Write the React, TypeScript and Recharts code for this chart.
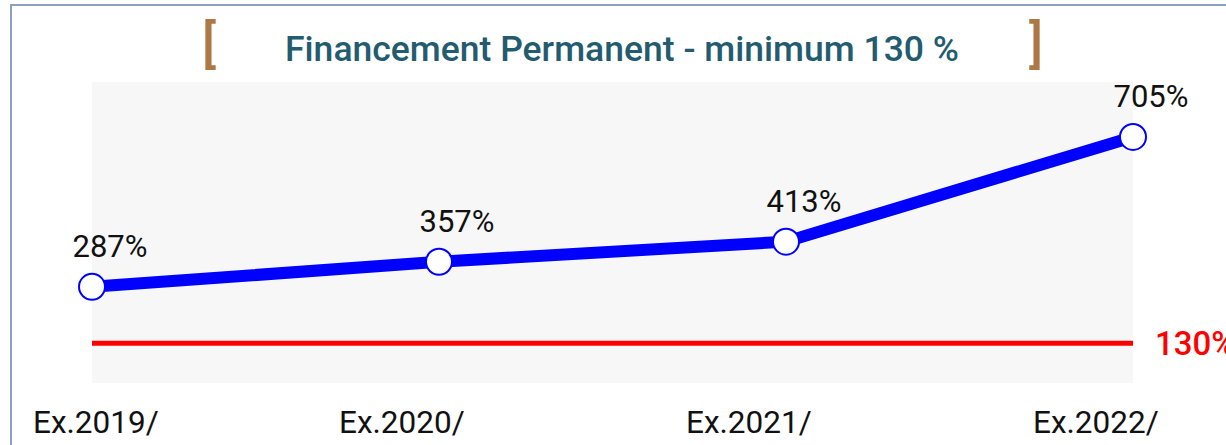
import { LineChart, Line, XAxis, YAxis, CartesianGrid, ReferenceLine, LabelList } from 'recharts';

const exercises = ['Ex.2019/', 'Ex.2020/', 'Ex.2021/', 'Ex.2022/'];
const ratios = [287, 357, 413, 705];
const minimum = 130;
const title = 'Financement Permanent - minimum 130 %';

const data = exercises.map((name, i) => ({ name, ratio: ratios[i] }));

const FONT = 'Roboto, "Noto Sans", sans-serif';

function ExTick(props: any) {
  const { x, y, payload } = props;
  // labels sit left of their point, but never past the frame
  const left = Math.max(33, x - 100);
  return (
    <text x={left} y={y + 42} textAnchor="start" fontFamily={FONT} fontSize={31.5} fill="#111">
      {payload.value}
    </text>
  );
}

function ValueLabel(props: any) {
  const { x, y, value } = props;
  return (
    <text x={x + 18} y={y - 30} textAnchor="middle" fontFamily={FONT} fontSize={31} fill="#111">
      {value}%
    </text>
  );
}

export default function App() {
  return (
    <div style={{ position: 'absolute', left: 0, top: 0, width: 1226, height: 445, overflow: 'hidden', background: '#fff' }}>
      <div
        style={{
          position: 'absolute',
          left: 10,
          top: 4,
          width: 1260,
          height: 480,
          border: '2px solid #8ba1c2',
        }}
      />
      <svg width={1226} height={80} style={{ position: 'absolute', left: 0, top: 0 }}>
        <text x={209} y={62} textAnchor="middle" fontFamily={FONT} fontSize={52} fontWeight={500} fill="#ad7843">[</text>
        <text x={622} y={61} textAnchor="middle" fontFamily={FONT} fontSize={35.5} fontWeight={500} fill="#235b6f">
          {title}
        </text>
        <text x={1036} y={62} textAnchor="middle" fontFamily={FONT} fontSize={52} fontWeight={500} fill="#ad7843">]</text>
      </svg>
      <div style={{ position: 'absolute', left: 0, top: 0 }}>
        <LineChart width={1226} height={445} data={data} margin={{ top: 82, right: 93, bottom: 0, left: 92 }}>
          <CartesianGrid fill="#f7f7f7" stroke="none" horizontal={false} vertical={false} />
          <XAxis
            dataKey="name"
            height={62}
            axisLine={false}
            tickLine={false}
            padding={{ left: 0, right: 0 }}
            tick={<ExTick />}
            interval={0}
          />
          <YAxis hide domain={[19, 858]} />
          <ReferenceLine
            y={minimum}
            stroke="#ff0000"
            strokeWidth={5}
            label={{ value: `${minimum}%`, position: 'right', offset: 22, fill: '#ff0000', fontSize: 33, fontWeight: 500, fontFamily: FONT }}
          />
          <Line
            type="linear"
            dataKey="ratio"
            stroke="#0000ff"
            strokeWidth={12}
            dot={{ r: 13, fill: '#ffffff', stroke: '#0000ff', strokeWidth: 2 }}
            activeDot={false}
            isAnimationActive={false}
          >
            <LabelList dataKey="ratio" content={<ValueLabel />} />
          </Line>
        </LineChart>
      </div>
    </div>
  );
}
